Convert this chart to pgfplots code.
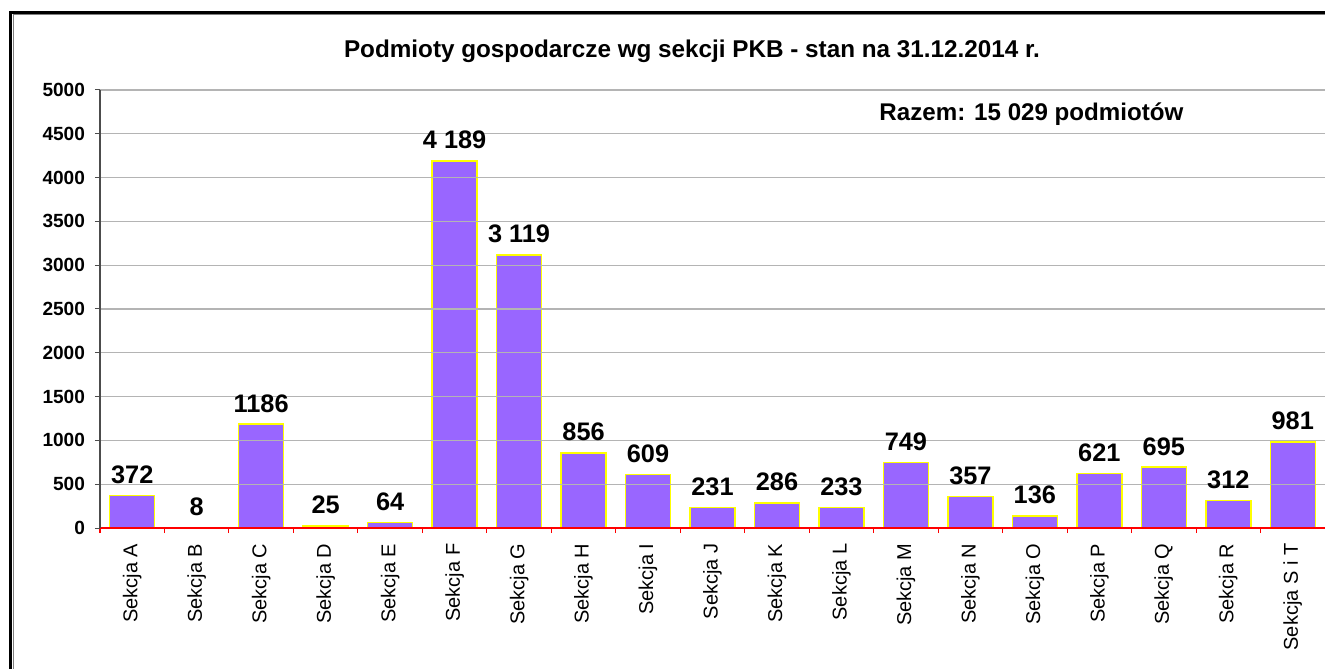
\documentclass[border=0pt]{standalone}
\usepackage{pgfplots}
\pgfplotsset{compat=1.18}
\usepackage{fontspec}
\setmainfont{Liberation Sans}
\definecolor{barfill}{HTML}{9966FF}
\definecolor{baredge}{HTML}{FFFF00}
\definecolor{gridc}{HTML}{B4B4B4}
\begin{document}
\begin{tikzpicture}
\useasboundingbox (0,0) rectangle (993.75pt,501pt);
\fill[white] (0,0) rectangle (993.75pt,501pt);
% frame
\draw[line width=2.1pt] (7.7pt,-20pt) -- (7.7pt,491.6pt) -- (1010pt,491.6pt);
\draw[line width=0.7pt, gray] (9.8pt,-20pt) -- (9.8pt,489.8pt) -- (1010pt,489.8pt);
\begin{axis}[
  at={(75pt,105pt)}, anchor=south west,
  scale only axis, width=918.75pt, height=328.5pt,
  xmin=-0.5, xmax=18.5, ymin=0, ymax=5000,
  axis lines*=left,
  axis on top,
  x axis line style={red, line width=0.9pt},
  y axis line style={black!70, line width=0.75pt},
  ytick={0,500,...,5000},
  yticklabel style={font=\fontsize{14.3}{14.3}\selectfont\bfseries, xshift=-4pt},
  /pgf/number format/assume math mode=true,
  /pgf/number format/1000 sep={},
  ymajorgrids, grid style={gridc, line width=0.8pt},
  tick align=outside, major tick length=3.75pt, minor tick length=3.75pt,
  every major y tick/.append style={black!70, line width=0.75pt},
  every major x tick/.append style={draw=none},
  xtick={0,1,...,18},
  xticklabels={Sekcja A,Sekcja B,Sekcja C,Sekcja D,Sekcja E,Sekcja F,Sekcja G,Sekcja H,Sekcja I,Sekcja J,Sekcja K,Sekcja L,Sekcja M,Sekcja N,Sekcja O,Sekcja P,Sekcja Q,Sekcja R,Sekcja S i T},
  minor xtick={-0.5,0.5,...,18.5},
  every minor x tick/.append style={red, line width=0.75pt},
  xticklabel style={rotate=90, anchor=east, xshift=-4.5pt, font=\fontsize{15}{15}\selectfont},
  ybar, bar width=33.75pt,
  point meta=explicit symbolic,
  nodes near coords,
  every node near coord/.append style={font=\fontsize{19}{19}\selectfont\bfseries, anchor=south, yshift=5pt, text=black},
]
\addplot[fill=barfill, draw=baredge, line width=1.1pt] coordinates {
 (0,372) [372] (1,8) [8] (2,1186) [1186] (3,25) [25] (4,64) [64]
 (5,4189) [4 189] (6,3119) [3 119] (7,856) [856] (8,609) [609]
 (9,231) [231] (10,286) [286] (11,233) [233] (12,749) [749]
 (13,357) [357] (14,136) [136] (15,621) [621] (16,695) [695]
 (17,312) [312] (18,981) [981]
};
\end{axis}
\node[anchor=base, font=\fontsize{18.2}{18.2}\selectfont\bfseries] at (519pt,457.7pt) {Podmioty gospodarcze wg sekcji PKB - stan na 31.12.2014 r.};
\node[anchor=base, font=\fontsize{18.1}{18.1}\selectfont\bfseries] at (773.6pt,410.6pt) {Razem: 15 029 podmiotów};
\end{tikzpicture}
\end{document}
